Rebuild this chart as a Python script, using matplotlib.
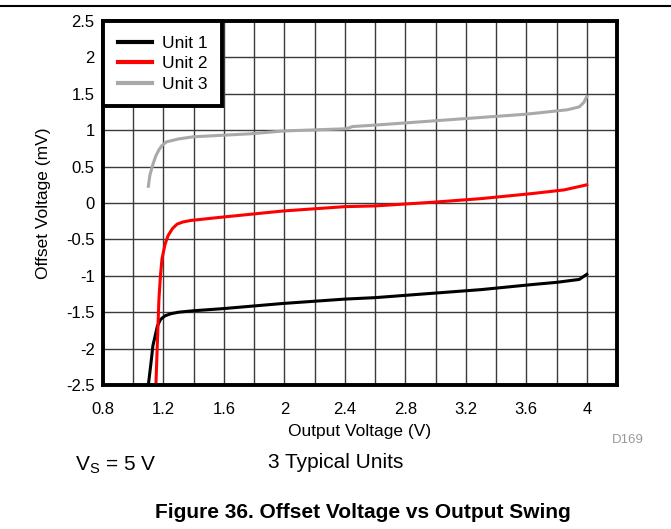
import numpy as np
import matplotlib.pyplot as plt
from matplotlib.lines import Line2D

plt.rcParams['font.family'] = ['Liberation Sans', 'DejaVu Sans']

# Unit 1 (black)
u1_x = [1.10, 1.12, 1.13, 1.15, 1.16, 1.18, 1.21, 1.25, 1.30, 1.40, 1.60, 1.99, 2.40, 2.60, 2.98, 3.30, 3.64, 3.80, 3.95, 4.00]
u1_y = [-2.50, -2.15, -1.96, -1.78, -1.69, -1.60, -1.55, -1.52, -1.50, -1.48, -1.45, -1.38, -1.32, -1.30, -1.24, -1.19, -1.12, -1.09, -1.05, -0.98]

# Unit 2 (red)
u2_x = [1.15, 1.16, 1.17, 1.18, 1.19, 1.21, 1.23, 1.26, 1.29, 1.33, 1.38, 1.56, 1.99, 2.40, 2.60, 2.98, 3.30, 3.64, 3.85, 3.98, 4.00]
u2_y = [-2.50, -1.90, -1.32, -1.00, -0.77, -0.57, -0.45, -0.35, -0.29, -0.26, -0.24, -0.20, -0.11, -0.05, -0.04, 0.01, 0.06, 0.13, 0.18, 0.24, 0.25]

# Unit 3 (gray)
u3_x = [1.10, 1.11, 1.13, 1.15, 1.17, 1.19, 1.22, 1.30, 1.40, 1.77, 2.00, 2.41, 2.45, 2.60, 2.80, 3.20, 3.60, 3.87, 3.95, 3.98, 4.00]
u3_y = [0.23, 0.38, 0.53, 0.65, 0.73, 0.79, 0.84, 0.88, 0.91, 0.95, 0.99, 1.02, 1.05, 1.07, 1.10, 1.16, 1.22, 1.28, 1.32, 1.38, 1.46]

x_ticks = [0.8, 1.2, 1.6, 2.0, 2.4, 2.8, 3.2, 3.6, 4.0]
x_tick_labels = ['0.8', '1.2', '1.6', '2', '2.4', '2.8', '3.2', '3.6', '4']
y_ticks = [-2.5, -2, -1.5, -1, -0.5, 0, 0.5, 1, 1.5, 2, 2.5]
y_tick_labels = ['-2.5', '-2', '-1.5', '-1', '-0.5', '0', '0.5', '1', '1.5', '2', '2.5']

fig = plt.figure(figsize=(6.71, 5.29), dpi=100)
ax = fig.add_axes([103 / 671, 1 - 385 / 529, 514 / 671, 364 / 529])

ax.plot(u1_x, u1_y, color='black', lw=2.2, label='Unit 1')
ax.plot(u2_x, u2_y, color='#ff0000', lw=2.2, label='Unit 2')
ax.plot(u3_x, u3_y, color='#a9a9a9', lw=2.2, label='Unit 3')

ax.set_xlim(0.8, 4.2)
ax.set_ylim(-2.5, 2.5)
ax.set_xticks(x_ticks)
ax.set_xticklabels(x_tick_labels)
ax.set_xticks(np.arange(0.8, 4.21, 0.2), minor=True)
ax.set_yticks(y_ticks)
ax.set_yticklabels(y_tick_labels)
ax.tick_params(which='both', length=0, labelsize=12)
ax.tick_params(axis='x', pad=12)
ax.tick_params(axis='y', pad=6)
ax.grid(which='both', color='#3a3a3a', lw=1.0)
ax.set_axisbelow(True)
for s in ax.spines.values():
    s.set_linewidth(2.8)

ax.set_xlabel('Output Voltage (V)', fontsize=12.5, labelpad=5)
ax.set_ylabel('Offset Voltage (mV)', fontsize=12.5, labelpad=11)

leg = ax.legend(loc='upper left', fontsize=12.5, frameon=True, fancybox=False,
                borderaxespad=0, handlelength=2.0, handletextpad=0.55,
                labelspacing=0.3, borderpad=0.85)
leg.get_frame().set_edgecolor('black')
leg.get_frame().set_linewidth(2.8)
leg.get_frame().set_alpha(1)
for h in leg.get_lines():
    h.set_linewidth(3)

fig.add_artist(Line2D([0, 1], [1 - 6 / 529, 1 - 6 / 529], color='black', lw=1.5))
fig.text(628 / 671, 1 - 440 / 529, 'D169', fontsize=9.5, color='#999999', ha='center', va='center')
fig.text(75 / 671, 1 - 465 / 529, r'V$_\mathregular{S}$ = 5 V', fontsize=15, ha='left', va='center')
fig.text(268 / 671, 1 - 462 / 529, '3 Typical Units', fontsize=15, ha='left', va='center')
fig.text(363 / 671, 1 - 512 / 529, 'Figure 36. Offset Voltage vs Output Swing',
         fontsize=15, fontweight='bold', ha='center', va='center')

fig.savefig('out.png', dpi=100)
